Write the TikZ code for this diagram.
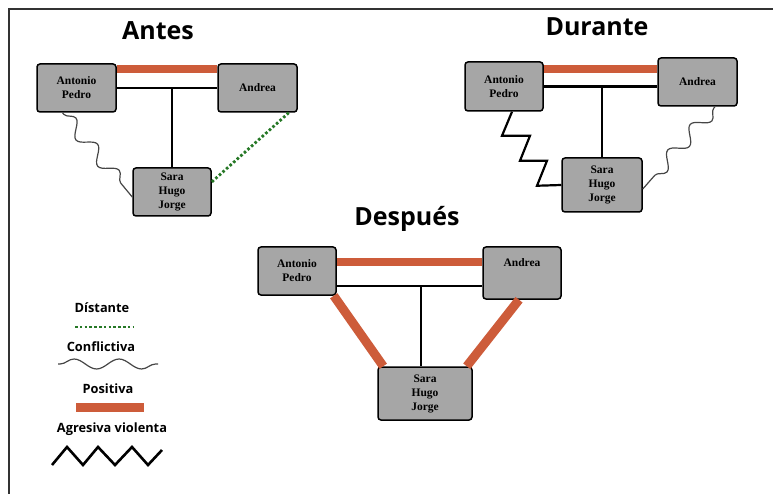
\documentclass[tikz,border=0pt]{standalone}
\usepackage{fontspec}
\setmainfont{Liberation Serif}
\newfontfamily\headfont{Open Sans}
\usetikzlibrary{positioning,decorations.pathmorphing}
\definecolor{boxgray}{RGB}{166,166,166}
\definecolor{tieorange}{RGB}{205,92,58}
\definecolor{tiegreen}{RGB}{38,120,38}
\definecolor{wavegray}{RGB}{70,70,70}
\tikzset{
    x=1pt, y=-1pt,
    person box/.style={rectangle,rounded corners=3pt,draw=black,line width=1.5pt,fill=boxgray,
        align=center,inner sep=0pt,font=\fontsize{11.5}{14}\selectfont\bfseries},
    title text/.style={font=\headfont\fontsize{25}{30}\selectfont\bfseries},
    legend text/.style={font=\headfont\fontsize{12.8}{15}\selectfont\bfseries},
    plain tie/.style={line width=2.5pt,black},
    positive tie/.style={line width=8pt,tieorange},
    distant tie/.style={line width=2.8pt,tiegreen,dash pattern=on 2.6pt off 2.2pt},
    conflict tie/.style={line width=1.2pt,wavegray,decorate,
        decoration={snake,segment length=34pt,amplitude=7pt,pre length=2pt,post length=2pt}},
    violent tie/.style={line width=2.2pt,black,line join=miter}
}
\begin{document}
\begin{tikzpicture}
    \useasboundingbox (0,0) rectangle (773,494);
    % frame
    \draw[line width=2pt,black!80] (9,494) -- (9,9) -- (773,9);

    % Antes
    \node[title text] (t1) at (158,31) {Antes};
    \node[person box,minimum width=79pt,minimum height=48pt] (1) at (76.5,88) {Antonio\\Pedro};
    \node[person box,minimum width=79pt,minimum height=48pt] (2) at (257.5,88) {Andrea};
    \node[person box,minimum width=78pt,minimum height=48pt] (3) at (172,192) {Sara\\Hugo\\Jorge};
    \draw[positive tie] ([yshift=-6pt]1.north east) -- ([yshift=-6pt]1.north east -| 2.west);
    \draw[plain tie] (1.east) -- (2.west);
    \draw[plain tie] (3.north) -- (3.north |- 1.east);
    \draw[distant tie] ([xshift=-9pt]2.south east) -- ([yshift=10pt]3.east);
    \draw[conflict tie] ([xshift=-14pt]1.south) -- ([yshift=-5pt]3.west);

    % Durante
    \node[title text] (t2) at (597,27) {Durante};
    \node[person box,minimum width=78pt,minimum height=49pt] (4) at (504,86.5) {Antonio\\Pedro};
    \node[person box,minimum width=79pt,minimum height=48pt] (5) at (697.5,82) {Andrea};
    \node[person box,minimum width=80pt,minimum height=54pt] (6) at (602,185) {Sara\\Hugo\\Jorge};
    \draw[positive tie] ([yshift=-8pt]4.north east) -- ([yshift=-8pt]4.north east -| 5.west);
    \draw[plain tie] (4.east) -- (4.east -| 5.west);
    \draw[plain tie] (6.north) -- (6.north |- 4.east);
    \draw[violent tie] ([xshift=8pt]4.south) -- ++(-10,24) -- ++(28,0) -- ++(-10,25)
        -- ++(27,0) -- ++(-10,25) -- (6.west);
    \draw[conflict tie] ([xshift=17.5pt]5.south) -- ([yshift=-4pt]6.east);

    % Despues
    \node[title text] (t3) at (407,219) {Después};
    \node[person box,minimum width=78pt,minimum height=48pt] (7) at (297,271) {Antonio\\Pedro};
    \node[person box,minimum width=78pt,minimum height=52pt,text depth=20pt] (8) at (522,273) {Andrea};
    \node[person box,minimum width=94pt,minimum height=53pt] (9) at (425,393.5) {Sara\\Hugo\\Jorge};
    \coordinate (j7) at ([yshift=10pt]7.south east);
    \draw[positive tie] ([yshift=-16pt]7.north east) -- ([yshift=-16pt]7.north east -| 8.west);
    \draw[plain tie] (j7) -- (j7 -| 8.west);
    \draw[plain tie] ([xshift=-4pt]9.north) -- ([xshift=-4pt]9.north |- j7);
    \draw[positive tie,line width=9pt] ([xshift=-3pt]7.south east) -- ([xshift=6pt]9.north west);
    \draw[positive tie,line width=9pt] ([xshift=-3pt]8.south) -- ([xshift=-6pt]9.north east);

    % legend
    \node[legend text] (l1) at (102,308) {Dístante};
    \node[legend text] (l2) at (101,347) {Conflictiva};
    \node[legend text] (l3) at (108,389) {Positiva};
    \node[legend text] (l4) at (112,429) {Agresiva violenta};
    \coordinate (d1) at (75,327);
    \coordinate (d2) at (133,327);
    \coordinate (c1) at (58,364);
    \coordinate (c2) at (158,364);
    \coordinate (p1) at (76,407.5);
    \coordinate (p2) at (144,407.5);
    \coordinate (v1) at (52,465);
    \draw[distant tie] (d1) -- (d2);
    \draw[conflict tie,decoration={snake,segment length=45pt,amplitude=5pt}] (c1) -- (c2);
    \draw[positive tie,line width=9pt] (p1) -- (p2);
    \draw[violent tie,line width=2.6pt] (v1) -- ++(15,-18) -- ++(16,18) -- ++(15,-18) -- ++(17,18)
        -- ++(17,-18) -- ++(16,18) -- ++(14,-15);
\end{tikzpicture}
\end{document}
